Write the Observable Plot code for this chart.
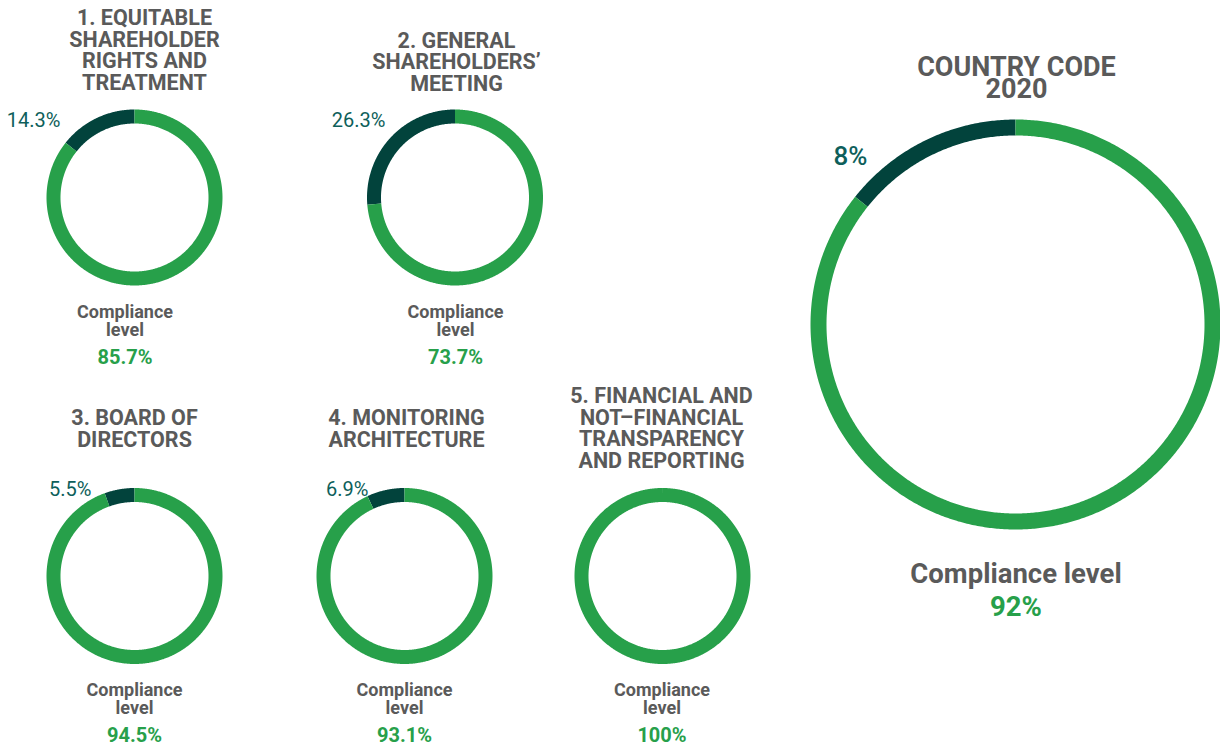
<!DOCTYPE html>
<html>
<head>
<meta charset="utf-8">
<script src="https://cdn.jsdelivr.net/npm/d3@7"></script>
<script src="https://cdn.jsdelivr.net/npm/@observablehq/plot@0.6"></script>
<style>
  html, body { margin: 0; padding: 0; background: #fff; }
  #chart svg { display: block; }
  #chart text { font-family: Roboto, "Noto Sans", sans-serif; }
</style>
</head>
<body>
<div id="chart"></div>
<script>
// ---- data ----
const sections = [
  "1. EQUITABLE\nSHAREHOLDER\nRIGHTS AND\nTREATMENT",
  "2. GENERAL\nSHAREHOLDERS’\nMEETING",
  "3. BOARD OF\nDIRECTORS",
  "4. MONITORING\nARCHITECTURE",
  "5. FINANCIAL AND\nNOT–FINANCIAL\nTRANSPARENCY\nAND REPORTING",
  "COUNTRY CODE\n2020"
];
const complianceLevel = [85.7, 73.7, 94.5, 93.1, 100, 92];
const gapLabel = ["14.3%", "26.3%", "5.5%", "6.9%", "", "8%"];
// share of the ring drawn in the dark colour, as it appears in the picture
const darkArcShare = [14.3, 26.3, 5.5, 6.9, 0, 14.3];
const complianceText = ["Compliance\nlevel", "Compliance\nlevel", "Compliance\nlevel", "Compliance\nlevel", "Compliance\nlevel", "Compliance level"];

// ---- layout (positions / sizes, not data) ----
const layout = [
  {cx: 134,   cy: 197,   r: 81,  w: 14, tx: 144, ty: 89,  gx: 60,  gy: 126, lx: 124.5, ly: 335, vy: 363},
  {cx: 454.5, cy: 197,   r: 81,  w: 14, tx: 456, ty: 90,  gx: 385, gy: 126, lx: 455,   ly: 335, vy: 363},
  {cx: 134,   cy: 575.5, r: 81,  w: 14, tx: 134, ty: 446, gx: 91,  gy: 495, lx: 134,   ly: 713, vy: 741},
  {cx: 404,   cy: 575.5, r: 81,  w: 14, tx: 406, ty: 446, gx: 368, gy: 495, lx: 404,   ly: 713, vy: 741},
  {cx: 662,   cy: 575.5, r: 81,  w: 14, tx: 661, ty: 467, gx: 0,   gy: 0,   lx: 661.5, ly: 713, vy: 741},
  {cx: 1015,  cy: 324,   r: 197, w: 16, tx: 1016, ty: 97, gx: 867, gy: 164, lx: 1015.5, ly: 582, vy: 615}
];
const GREEN = "#27a04a", DARK = "#02433c", TEAL = "#0e5f5b", GRAY = "#5a5a5a";

// ring geometry from the shares (fraction 0 = 12 o'clock, clockwise positive)
function arc(i, from, to, color) {
  const L = layout[i];
  const n = Math.max(2, Math.ceil(Math.abs(to - from) * 720) + 1);
  return d3.range(n).map(k => {
    const a = (from + (to - from) * k / (n - 1)) * 2 * Math.PI;
    return {key: `${i}-${color}`, i, color, x: L.cx + L.r * Math.sin(a), y: L.cy - L.r * Math.cos(a)};
  });
}
const arcs = [];
sections.forEach((s, i) => {
  const dark = darkArcShare[i] / 100;
  if (dark > 0) arcs.push(...arc(i, -dark, 0, DARK));
  arcs.push(...arc(i, 0, 1 - dark, GREEN));
});
const small = arcs.filter(d => d.i < 5), big = arcs.filter(d => d.i === 5);

const rows = sections.map((s, i) => ({
  i, title: s, value: complianceLevel[i] + "%", gap: gapLabel[i], label: complianceText[i], ...layout[i]
}));
const rs = rows.filter(d => d.i < 5), rb = rows.filter(d => d.i === 5);
const rg = rows.filter(d => d.gap);

const chart = Plot.plot({
  width: 1220, height: 746, margin: 0,
  x: {domain: [0, 1220], range: [0, 1220], axis: null},
  y: {domain: [0, 746], range: [0, 746], axis: null},
  marks: [
    Plot.line(small, {x: "x", y: "y", z: "key", stroke: "color", strokeWidth: 14, strokeLinecap: "butt", strokeLinejoin: "round"}),
    Plot.line(big, {x: "x", y: "y", z: "key", stroke: "color", strokeWidth: 16, strokeLinecap: "butt", strokeLinejoin: "round"}),
    // titles
    Plot.text(rs, {x: "tx", y: "ty", text: "title", lineAnchor: "bottom", lineHeight: 1.0, fontSize: 21.5, fontWeight: 700, fill: GRAY}),
    Plot.text(rb, {x: "tx", y: "ty", text: "title", lineAnchor: "bottom", lineHeight: 0.78, fontSize: 27, fontWeight: 700, fill: GRAY}),
    // gap labels
    Plot.text(rg.filter(d => d.i < 5), {x: "gx", y: "gy", text: "gap", textAnchor: "end", lineAnchor: "bottom", fontSize: 20, fontWeight: 400, fill: TEAL}),
    Plot.text(rg.filter(d => d.i === 5), {x: "gx", y: "gy", text: "gap", textAnchor: "end", lineAnchor: "bottom", fontSize: 26, fontWeight: 500, fill: TEAL}),
    // compliance labels
    Plot.text(rs, {x: "lx", y: "ly", text: "label", lineAnchor: "bottom", lineHeight: 1.0, fontSize: 18, fontWeight: 700, fill: GRAY}),
    Plot.text(rb, {x: "lx", y: "ly", text: "label", lineAnchor: "bottom", fontSize: 27.5, fontWeight: 700, fill: GRAY}),
    Plot.text(rs, {x: "lx", y: "vy", text: "value", lineAnchor: "bottom", fontSize: 20, fontWeight: 700, fill: GREEN}),
    Plot.text(rb, {x: "lx", y: "vy", text: "value", lineAnchor: "bottom", fontSize: 27.5, fontWeight: 700, fill: GREEN})
  ]
});
document.getElementById("chart").appendChild(chart);
</script>
</body>
</html>
